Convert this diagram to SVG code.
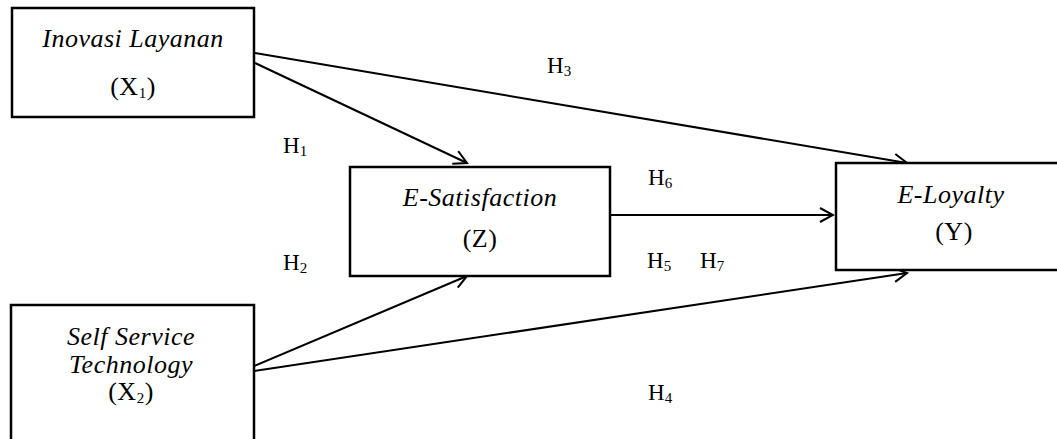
<svg xmlns="http://www.w3.org/2000/svg" width="1057" height="439" viewBox="0 0 1057 439">
<style>
.box{fill:#fff;stroke:#000;stroke-width:2.5}
.t{font-family:"Liberation Serif","Times New Roman",serif;font-size:26px;fill:#000;text-anchor:middle;letter-spacing:0.5px}
.i{font-style:italic}
.h{font-family:"Liberation Serif","Times New Roman",serif;font-size:23px;fill:#000}
.sub{font-size:15px}
.c{fill:none;stroke:#000;stroke-width:2}
</style>
<defs>
<marker id="arr" markerUnits="userSpaceOnUse" markerWidth="16" markerHeight="18" refX="14" refY="8" orient="auto">
<path d="M1,1 L14,8 L1,15" fill="none" stroke="#000" stroke-width="2"/>
</marker>
</defs>
<rect width="1057" height="439" fill="#fff"/>
<g id="connectors">
<line class="c" x1="255" y1="53" x2="907" y2="163" marker-end="url(#arr)"/>
<line class="c" x1="255" y1="63" x2="467" y2="163" marker-end="url(#arr)"/>
<line class="c" x1="610" y1="215" x2="833" y2="215" marker-end="url(#arr)"/>
<line class="c" x1="254" y1="366" x2="467" y2="276" marker-end="url(#arr)"/>
<line class="c" x1="254" y1="371" x2="907" y2="273" marker-end="url(#arr)"/>
</g>
<g id="node-x1">
<rect class="box" x="12" y="8" width="242" height="109"/>
<text class="t i" x="133" y="47">Inovasi Layanan</text>
<text class="t" x="133" y="95">(X<tspan class="sub" dy="3">1</tspan><tspan dy="-3">)</tspan></text>
</g>
<g id="node-z">
<rect class="box" x="350" y="167" width="260" height="109"/>
<text class="t i" x="480" y="206">E-Satisfaction</text>
<text class="t" x="480" y="247">(Z)</text>
</g>
<g id="node-y">
<rect class="box" x="836" y="163" width="240" height="107"/>
<text class="t i" x="951" y="203">E-Loyalty</text>
<text class="t" x="954" y="240">(Y)</text>
</g>
<g id="node-x2">
<rect class="box" x="11" y="305" width="243" height="150"/>
<text class="t i" x="131" y="345">Self Service</text>
<text class="t i" x="131" y="373">Technology</text>
<text class="t" x="131" y="400">(X<tspan class="sub" dy="3">2</tspan><tspan dy="-3">)</tspan></text>
</g>
<g id="labels">
<text class="h" x="283" y="153">H<tspan class="sub" dy="3">1</tspan></text>
<text class="h" x="283" y="270">H<tspan class="sub" dy="3">2</tspan></text>
<text class="h" x="547" y="73">H<tspan class="sub" dy="3">3</tspan></text>
<text class="h" x="648" y="185">H<tspan class="sub" dy="3">6</tspan></text>
<text class="h" x="647" y="268">H<tspan class="sub" dy="3">5</tspan></text>
<text class="h" x="700" y="268">H<tspan class="sub" dy="3">7</tspan></text>
<text class="h" x="648" y="400">H<tspan class="sub" dy="3">4</tspan></text>
</g>
</svg>
